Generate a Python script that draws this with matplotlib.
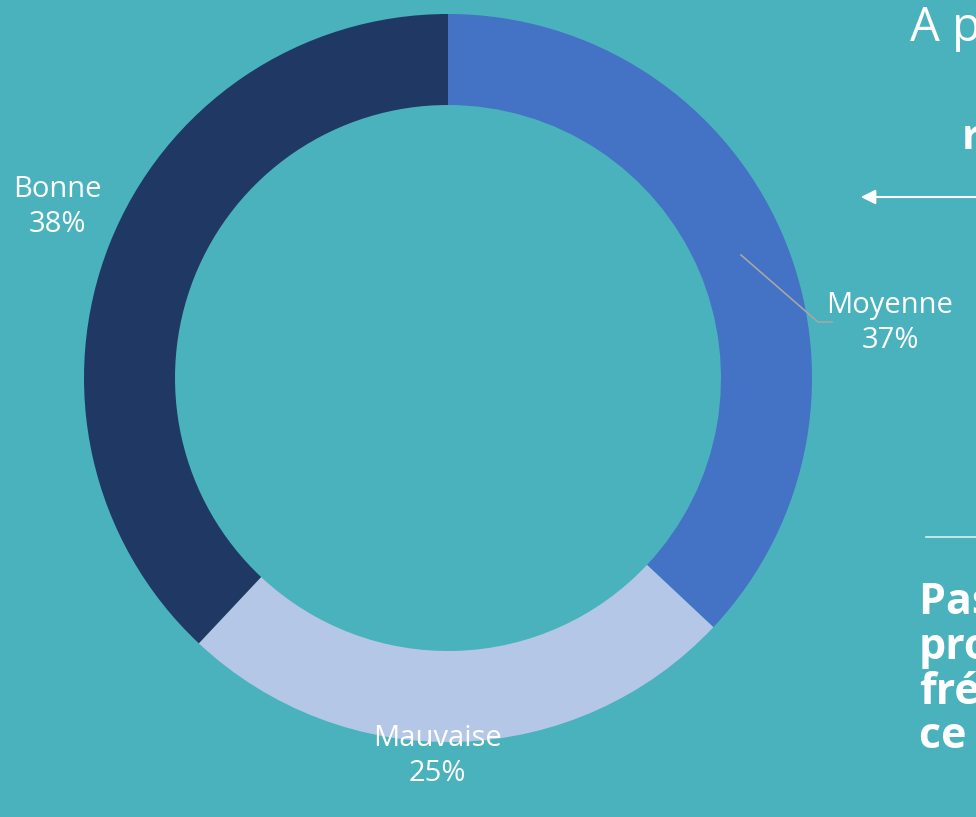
import matplotlib.pyplot as plt

# Données du graphique
categories = ["Moyenne", "Mauvaise", "Bonne"]
values = [37, 25, 38]
colors = ["#4472C4", "#B4C7E7", "#1F3864"]
bg = "#49B2BC"

W, H = 976, 817
fig = plt.figure(figsize=(W / 100, H / 100), dpi=100, facecolor=bg)
ax = fig.add_axes([0, 0, 1, 1])
ax.set_facecolor(bg)

cx, cy, R, ring = 448, H - 378, 364, 91
wedges, _ = ax.pie(values, colors=colors, startangle=90, counterclock=False,
                   center=(cx, cy), radius=R, frame=True,
                   wedgeprops=dict(width=ring, linewidth=0))
ax.set_xlim(0, W)
ax.set_ylim(0, H)
ax.set_aspect("equal")
ax.axis("off")

font = "Open Sans"
lab = dict(color="white", fontsize=21, family=font, ha="center", va="center",
           linespacing=1.25)

# Étiquettes
ax.text(57, H - 207, f"{categories[2]}\n{values[2]}%", **lab)
ax.text(437, H - 756, f"{categories[1]}\n{values[1]}%", **lab)
ax.text(890, H - 323, f"{categories[0]}\n{values[0]}%", **lab)
# ligne de rappel pour Moyenne
ax.plot([741, 818, 832], [H - 255, H - 322, H - 322], color="#A6A6A6", lw=1.2)

# Texte de droite (coupé par le bord comme dans l'original)
ax.text(910, H - 28, "A propos", color="white", fontsize=34, family=font,
        va="center", ha="left")
ax.text(962, H - 138, "répartition", color="white", fontsize=30, family=font,
        fontweight="bold", va="center", ha="left")
ax.annotate("", xy=(858, H - 197), xytext=(990, H - 197),
            arrowprops=dict(arrowstyle="-|>", color="white", lw=1.5,
                            mutation_scale=22))
ax.plot([926, 980], [H - 537, H - 537], color="#DDEFF1", lw=1.2)
for i, line in enumerate(["Pas de", "problème", "fréquent", "ce point"]):
    ax.text(919, H - 603 - i * 44.5, line, color="white", fontsize=31,
            family=font, fontweight="bold", va="center", ha="left")

fig.savefig("out.png", dpi=100, facecolor=bg)
